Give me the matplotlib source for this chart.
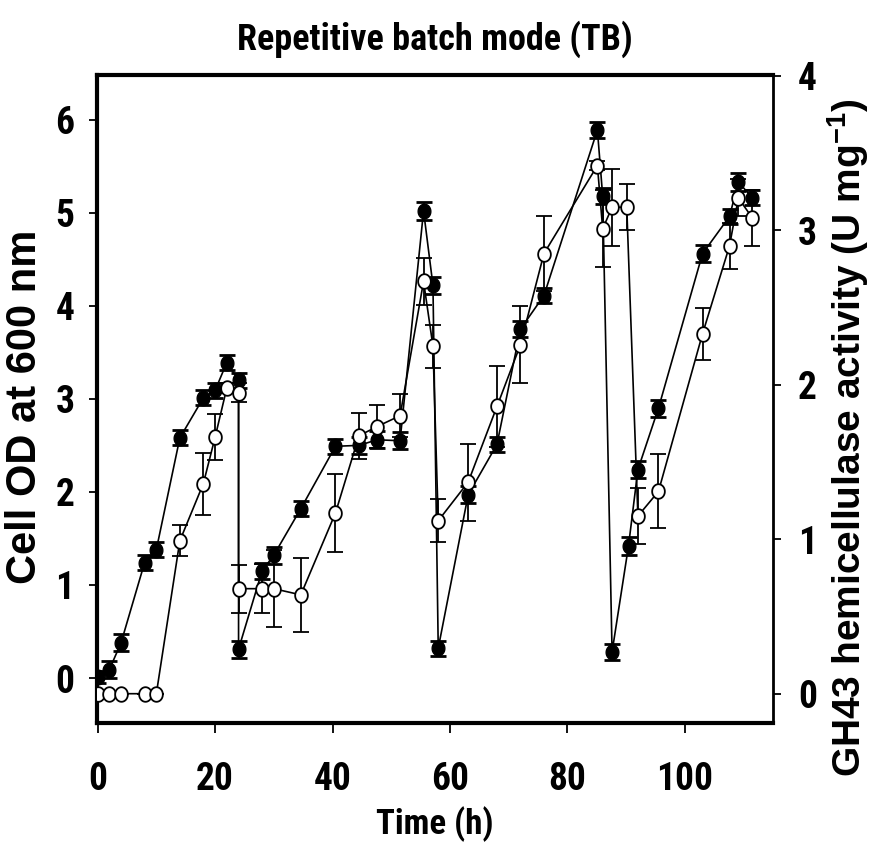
import numpy as np
import matplotlib
matplotlib.use("Agg")
import matplotlib.pyplot as plt
from matplotlib.path import Path
from matplotlib import font_manager

# ---- data ----
time_od = [0, 2, 4, 8, 10, 14, 18, 20, 22, 24, 24, 28, 30, 34.6, 40.5, 44.5, 47.6, 51.5,
           55.5, 57.1, 58, 63.1, 68, 72, 76, 85.1, 86, 87.6, 90.4, 92, 95.5, 103, 107.6, 109.1, 111.5]
cell_od = [0.01, 0.09, 0.38, 1.24, 1.38, 2.58, 3.01, 3.09, 3.39, 3.20, 0.31, 1.15, 1.32, 1.82, 2.49, 2.50, 2.56, 2.55,
           5.02, 4.22, 0.32, 1.97, 2.51, 3.75, 4.11, 5.89, 5.18, 0.28, 1.42, 2.24, 2.90, 4.56, 4.96, 5.33, 5.16]
cell_od_err = [0.06, 0.09, 0.09, 0.08, 0.08, 0.08, 0.08, 0.08, 0.08, 0.08, 0.09, 0.09, 0.09, 0.08, 0.08, 0.09, 0.09, 0.09,
               0.10, 0.09, 0.08, 0.09, 0.08, 0.09, 0.08, 0.09, 0.09, 0.09, 0.10, 0.09, 0.09, 0.09, 0.08, 0.10, 0.08]

time_act = [0, 2, 4, 8, 10, 14, 18, 20, 22, 24, 24, 28, 30, 34.6, 40.5, 44.5, 47.6, 51.5,
            55.5, 57.1, 58, 63.1, 68, 72, 76, 85.1, 86, 87.6, 90.1, 92, 95.5, 103, 107.6, 109.1, 111.5]
activity = [0, 0, 0, 0, 0, 0.99, 1.36, 1.66, 1.98, 1.95, 0.68, 0.68, 0.68, 0.64, 1.17, 1.67, 1.73, 1.80,
            2.67, 2.25, 1.12, 1.37, 1.86, 2.26, 2.85, 3.42, 3.01, 3.15, 3.15, 1.15, 1.31, 2.33, 2.90, 3.21, 3.08]
activity_err = [0, 0, 0, 0, 0, 0.10, 0.20, 0.15, 0.03, 0.06, 0.155, 0.16, 0.25, 0.24, 0.25, 0.15, 0.14, 0.14,
                0.15, 0.14, 0.14, 0.25, 0.26, 0.25, 0.24, 0.03, 0.25, 0.25, 0.15, 0.18, 0.24, 0.17, 0.15, 0.12, 0.18]

x_ticks = [0, 20, 40, 60, 80, 100]
od_ticks = [0, 1, 2, 3, 4, 5, 6]
act_ticks = [0, 1, 2, 3, 4]

title = "Repetitive batch mode (TB)"
x_label = "Time (h)"
y_label = "Cell OD at 600 nm"
y2_label = "GH43 hemicellulase activity (U mg$^{\\mathbf{-1}}$)"

# ---- fonts: prefer a condensed sans for the narrow labels ----
available = {f.name for f in font_manager.fontManager.ttflist}
narrow_name = None
for cand in ["Liberation Sans Narrow", "Arial Narrow", "Roboto Condensed", "Noto Sans Condensed",
             "Open Sans Condensed", "Noto Sans SemiCondensed", "DejaVu Sans Condensed"]:
    if cand in available:
        narrow_name = cand
        break
if narrow_name is None:
    for f in font_manager.fontManager.ttflist:
        if ("ondensed" in f.name or "arrow" in f.name) and "CJK" not in f.name:
            narrow_name = f.name
            break
narrow = ([narrow_name] if narrow_name else []) + ["Liberation Sans", "DejaVu Sans"]
wide = ["Liberation Sans", "DejaVu Sans"]
plt.rcParams["mathtext.fontset"] = "custom"
plt.rcParams["mathtext.bf"] = "Liberation Sans:bold"
plt.rcParams["mathtext.rm"] = "Liberation Sans"

theta = np.linspace(0, 2 * np.pi, 64)
ellipse = Path(np.column_stack([0.87 * np.cos(theta), np.sin(theta)]), closed=True)

fig = plt.figure(figsize=(8.77, 8.43), dpi=100)
ax = fig.add_axes([0.1103, 0.1423, 0.7711, 0.7687])
ax2 = ax.twinx()

ax.errorbar(time_od, cell_od, yerr=cell_od_err, fmt="-", color="black", lw=1.2,
            marker=ellipse, ms=10.5, mfc="black", mec="black",
            ecolor="black", elinewidth=1.3, capsize=5.5, capthick=2.0, zorder=3)
ax2.errorbar(time_act, activity, yerr=activity_err, fmt="-", color="black", lw=1.2,
             marker=ellipse, ms=10.5, mfc="white", mec="black", mew=1.3,
             ecolor="black", elinewidth=1.3, capsize=5.5, capthick=1.3, zorder=3)

ax.set_xlim(-0.15, 115)
ax.set_ylim(-0.484, 6.48)
ax2.set_ylim(-0.19, 4.006)
ax.set_xticks(x_ticks)
ax.set_yticks(od_ticks)
ax2.set_yticks(act_ticks)

for s in ["left", "bottom", "top"]:
    ax.spines[s].set_linewidth(3)
ax.spines["right"].set_visible(False)
for s in ["left", "bottom", "top"]:
    ax2.spines[s].set_visible(False)
ax2.spines["right"].set_linewidth(2)

ax.tick_params(axis="x", direction="out", length=7, width=1.3, pad=20)
ax.tick_params(axis="y", direction="out", length=6, width=1.3, pad=10)
ax2.tick_params(axis="y", direction="out", length=6, width=1.3, pad=12)

for lab in ax.get_xticklabels() + ax.get_yticklabels() + ax2.get_yticklabels():
    lab.set_fontfamily(narrow)
    lab.set_fontweight("bold")
    lab.set_fontsize(27)

ax.set_xlabel(x_label, family=narrow, fontweight="bold", fontsize=25, labelpad=6)
ax.set_ylabel(y_label, family=wide, fontweight="bold", fontsize=30)
ax.yaxis.set_label_coords(-0.076, 0.488)
ax2.set_ylabel(y2_label, family=wide, fontweight="bold", fontsize=28)
ax2.yaxis.set_label_coords(1.077, 0.44)
ax.set_title(title, family=narrow, fontweight="bold", fontsize=26, pad=18)

fig.savefig("out.png", dpi=100)
